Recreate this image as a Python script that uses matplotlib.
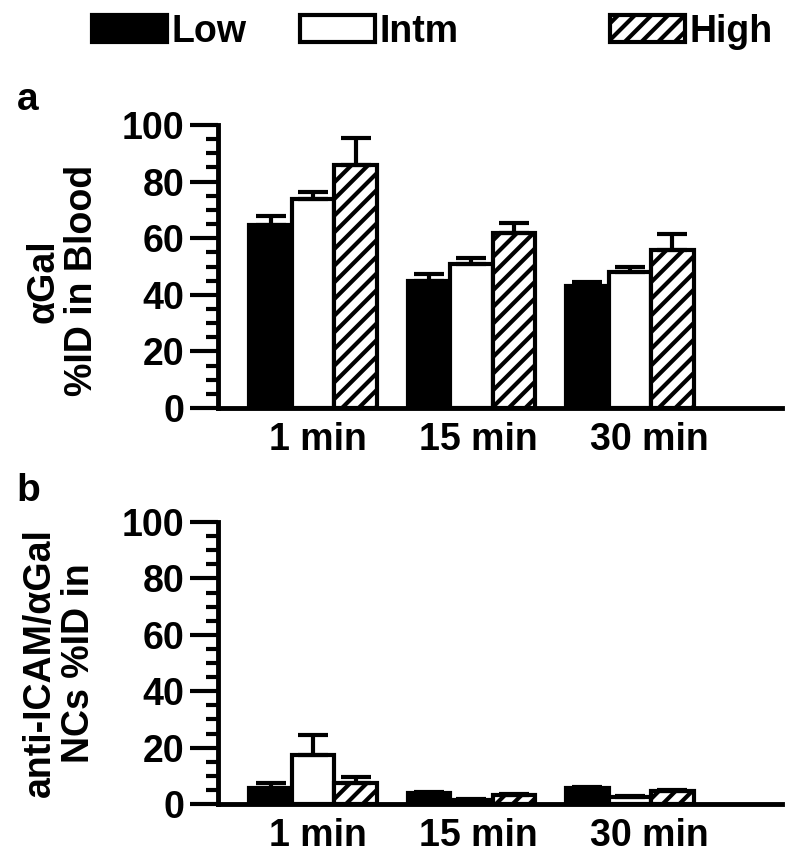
import numpy as np
import matplotlib
matplotlib.use("Agg")
import matplotlib.pyplot as plt
from matplotlib.ticker import MultipleLocator

plt.rcParams['font.family'] = ['Liberation Sans', 'DejaVu Sans']
plt.rcParams['font.weight'] = 'bold'
plt.rcParams['hatch.linewidth'] = 3.0
plt.rcParams['hatch.color'] = 'black'

# ---- data ----
categories = ["1 min", "15 min", "30 min"]
series_names = ["Low", "Intm", "High"]

a_low = [64.5, 45, 43]
a_low_err = [3.5, 2.5, 1.5]
a_intm = [74, 51, 48]
a_intm_err = [2.5, 2, 2]
a_high = [86, 62, 56]
a_high_err = [9.5, 3.5, 5.5]

b_low = [5.5, 3.8, 5.5]
b_low_err = [1.8, 0.5, 0.5]
b_intm = [17.5, 1.5, 2.5]
b_intm_err = [6.8, 0.3, 0.3]
b_high = [7.5, 3.2, 4.5]
b_high_err = [2.0, 0.4, 0.4]

yticks = [0, 20, 40, 60, 80, 100]

fig = plt.figure(figsize=(8.0, 8.64), dpi=100)
W, H = 800, 864

def axes_rect(left, right, top, bottom):
    return [left / W, 1 - bottom / H, (right - left) / W, (bottom - top) / H]

ax_a = fig.add_axes(axes_rect(218, 782, 125, 408))
ax_b = fig.add_axes(axes_rect(218, 782, 522, 804))

styles = [dict(facecolor='black', hatch=None),
          dict(facecolor='white', hatch=None),
          dict(facecolor='white', hatch='//')]

bw = 0.268
x = np.arange(len(categories))
# small layout shift of the category labels (they sit slightly right of group centres)
label_shift = np.array([0.03, 0.045, 0.12])

def draw_panel(ax, vals, errs):
    handles = []
    for k, (v, e) in enumerate(zip(vals, errs)):
        pos = x + (k - 1) * bw
        bars = ax.bar(pos, v, width=bw, edgecolor='black', linewidth=3.0,
                      facecolor=styles[k]['facecolor'], hatch=styles[k]['hatch'],
                      zorder=2, label=series_names[k])
        ax.errorbar(pos, v, yerr=[np.zeros(len(v)), e], fmt='none',
                    ecolor='black', elinewidth=3.0, capsize=11, capthick=3.0,
                    zorder=3)
        handles.append(bars)
    ax.set_ylim(0, 100)
    ax.set_xlim(-0.6, 2.96)
    ax.set_yticks(yticks)
    ax.yaxis.set_minor_locator(MultipleLocator(5))
    ax.set_xticks(x + label_shift)
    ax.set_xticklabels(categories)
    ax.tick_params(axis='y', which='major', direction='out', length=20, width=3,
                   labelsize=27, pad=4)
    ax.tick_params(axis='y', which='minor', direction='out', length=9, width=3)
    ax.tick_params(axis='x', which='both', length=0, labelsize=27, pad=10)
    for s in ['top', 'right']:
        ax.spines[s].set_visible(False)
    ax.spines['left'].set_linewidth(3.5)
    ax.spines['bottom'].set_linewidth(3.5)
    for lab in ax.get_xticklabels() + ax.get_yticklabels():
        lab.set_fontweight('bold')
    return handles

handles = draw_panel(ax_a, [a_low, a_intm, a_high], [a_low_err, a_intm_err, a_high_err])
draw_panel(ax_b, [b_low, b_intm, b_high], [b_low_err, b_intm_err, b_high_err])

ax_a.set_ylabel("αGal\n%ID in Blood", fontsize=27, fontweight='bold', linespacing=1.1)
ax_a.yaxis.set_label_coords(-0.209, 0.449)
ax_b.set_ylabel("anti-ICAM/αGal\nNCs %ID in", fontsize=27, fontweight='bold', linespacing=1.1)
ax_b.yaxis.set_label_coords(-0.215, 0.5)

fig.text(28 / W, 1 - 100 / H, "a", fontsize=28, fontweight='bold', ha='center', va='center')
fig.text(28 / W, 1 - 491 / H, "b", fontsize=28, fontweight='bold', ha='center', va='center')

legend_x = [92, 300, 610]
for h, name, lx in zip(handles, series_names, legend_x):
    leg = fig.legend(handles=[h], labels=[name], loc='center left',
                     bbox_to_anchor=(lx / W, 1 - 31.5 / H), frameon=False,
                     fontsize=27, handlelength=2.0, handleheight=0.72,
                     handletextpad=0.12, borderpad=0, borderaxespad=0)
    for t in leg.get_texts():
        t.set_fontweight('bold')

fig.savefig("out.png", dpi=100)
